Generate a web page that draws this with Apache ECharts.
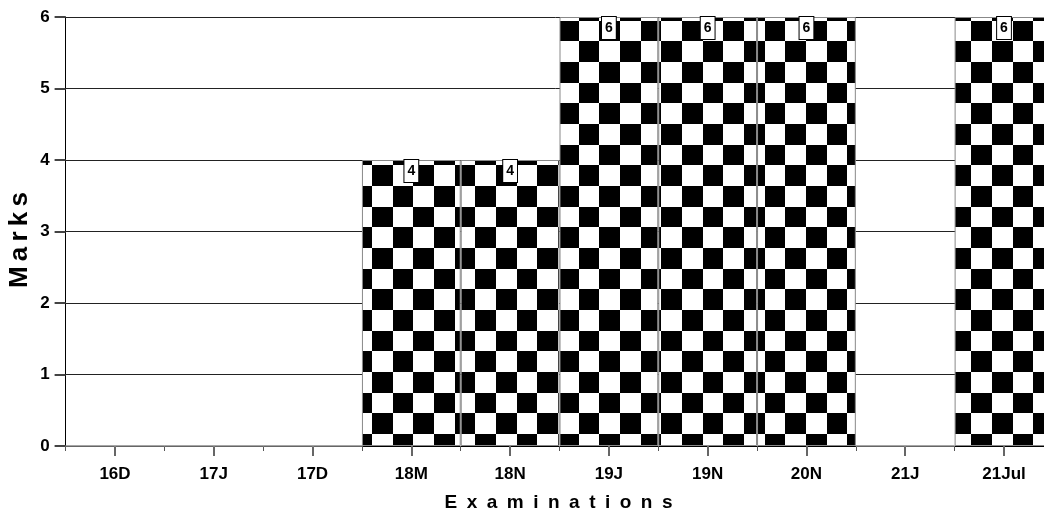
<!DOCTYPE html>
<html>
<head>
<meta charset="utf-8">
<script src="https://cdn.jsdelivr.net/npm/echarts@6/dist/echarts.min.js"></script>
<style>html,body{margin:0;padding:0;background:#fff;}#c{width:1044px;height:518px;}</style>
</head>
<body>
<div id="c"></div>
<script>
var categories = ['16D','17J','17D','18M','18N','19J','19N','20N','21J','21Jul'];
var marks = [0,0,0,4,4,6,6,6,0,6];
var yTicks = [0,1,2,3,4,5,6];

function checker(){
  var n = 6, s = 20.67, c = document.createElement('canvas');
  c.width = Math.round(n*s); c.height = Math.round(n*s);
  var g = c.getContext('2d');
  g.fillStyle = '#fff'; g.fillRect(0,0,c.width,c.height);
  g.fillStyle = '#000';
  for (var i=0;i<n;i++) for (var j=0;j<n;j++) if ((i+j)%2===0) g.fillRect(Math.round(i*s), Math.round(j*s), Math.round((i+1)*s)-Math.round(i*s), Math.round((j+1)*s)-Math.round(j*s));
  return c;
}
var pat = checker();
var font = '"Liberation Sans", Arial, sans-serif';
var barData = marks.map(function(v){ return {value: v, label: {show: v > 0}}; });
var chart = echarts.init(document.getElementById('c'), null, {renderer:'canvas'});
chart.setOption({
  animation: false,
  backgroundColor: '#fff',
  grid: {left: 65.6, width: 987.8, top: 17, height: 429, outerBoundsMode: 'none'},
  xAxis: [{
    type: 'category', data: categories,
    axisLine: {show: true, lineStyle: {color: '#000', width: 1}},
    axisTick: {show: true, alignWithLabel: true, length: 10, lineStyle: {color: '#666', width: 2}},
    axisLabel: {interval: 0, margin: 20, color: '#000', fontFamily: font, fontWeight: 'bold', fontSize: 17},
    splitLine: {show: false}
  },{
    type: 'category', data: categories, position: 'bottom',
    axisLine: {show: true, lineStyle: {color: '#000', width: 1}},
    axisTick: {show: true, length: 5, lineStyle: {color: '#555', width: 1}},
    axisLabel: {show: false}
  }],
  yAxis: [{
    type: 'value', min: 0, max: 6, interval: 1,
    axisLine: {show: true, lineStyle: {color: '#000'}},
    axisTick: {show: true, length: 11, lineStyle: {color: '#444', width: 2}},
    axisLabel: {margin: 16, color: '#000', fontFamily: font, fontWeight: 'bold', fontSize: 17,
      formatter: function(v){ return yTicks.indexOf(v) >= 0 ? String(v) : ''; }},
    splitLine: {show: true, lineStyle: {color: '#222', width: 1}}
  }],
  series: [{
    type: 'bar', data: barData, barWidth: '100%', barCategoryGap: '0%',
    itemStyle: {color: {image: pat, repeat: 'repeat'}, borderColor: '#888', borderWidth: 1},
    label: {
      position: 'insideTop', distance: 0,
      color: '#000', fontFamily: font, fontWeight: 'bold', fontSize: 14,
      backgroundColor: '#fff', borderColor: '#000', borderWidth: 1, padding: [4,3,4,3]
    }
  }],
  graphic: [
    {type: 'text', x: 558.5, y: 503, style: {text: 'E\u2002x\u2002a\u2002m\u2002i\u2002n\u2002a\u2002t\u2002i\u2002o\u2002n\u2002s', fill: '#000', font: 'bold 19px ' + font, textAlign: 'center', textVerticalAlign: 'middle'}},
    {type: 'text', x: 20, y: 240, rotation: Math.PI/2, style: {text: 'M\u2009a\u2009r\u2009k\u2009s', fill: '#000', font: 'bold 26px ' + font, textAlign: 'center', textVerticalAlign: 'middle'}}
  ]
});
</script>
</body>
</html>
